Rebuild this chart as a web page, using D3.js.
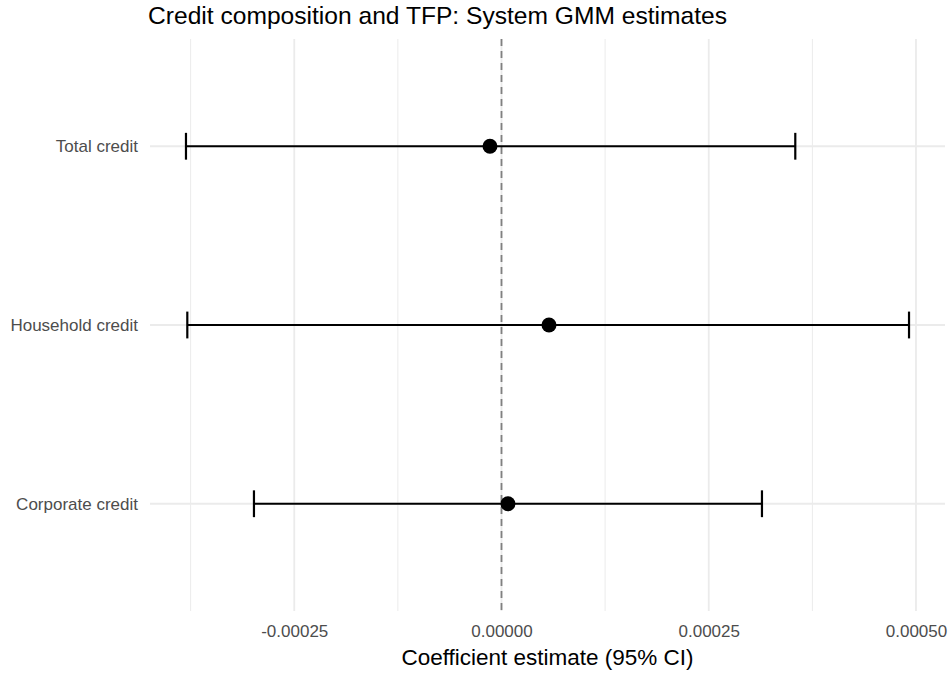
<!DOCTYPE html>
<html>
<head>
<meta charset="utf-8">
<script src="https://cdn.jsdelivr.net/npm/d3@7"></script>
<style>
  body { margin: 0; background: #fff; }
  text { font-family: "Liberation Sans", Arial, Helvetica, sans-serif; }
</style>
</head>
<body>
<figure id="coef" style="margin:0"></figure>
<script>
// coefficient estimates
const categories = ["Total credit", "Household credit", "Corporate credit"];
const estimates = [-0.0000139, 0.0000573, 0.0000078];
const lowerCI = [-0.0003806, -0.000379, -0.0002986];
const upperCI = [0.0003544, 0.0004916, 0.0003142];
const xTicks = [-0.00025, 0, 0.00025, 0.0005];
const xTickLabels = ["-0.00025", "0.00000", "0.00025", "0.00050"];
const xMinorTicks = [-0.000375, -0.000125, 0.000125, 0.000375];

const width = 951, height = 673;
const panel = { left: 150, right: 945, top: 39, bottom: 611 };

const svg = d3.select("figure#coef")
  .append("svg")
  .attr("width", width)
  .attr("height", height);

// X scale
const x = d3.scaleLinear()
  .domain([-0.000424, 0.000535])
  .range([panel.left, panel.right]);

// Y scale (discrete, top to bottom)
const y = d3.scalePoint()
  .domain(categories)
  .range([panel.top, panel.bottom])
  .padding(0.6);

const rows = categories.map((c, i) => ({
  name: c, est: estimates[i], lo: lowerCI[i], hi: upperCI[i]
}));

// grid
const grid = svg.append("g");
grid.selectAll("line.minor")
  .data(xMinorTicks)
  .enter()
  .append("line")
  .attr("class", "minor")
  .attr("x1", d => x(d)).attr("x2", d => x(d))
  .attr("y1", panel.top).attr("y2", panel.bottom)
  .style("stroke", "#ebebeb")
  .style("stroke-width", 1);
grid.selectAll("line.majorx")
  .data(xTicks)
  .enter()
  .append("line")
  .attr("class", "majorx")
  .attr("x1", d => x(d)).attr("x2", d => x(d))
  .attr("y1", panel.top).attr("y2", panel.bottom)
  .style("stroke", "#ebebeb")
  .style("stroke-width", 1.8);
grid.selectAll("line.majory")
  .data(categories)
  .enter()
  .append("line")
  .attr("class", "majory")
  .attr("x1", panel.left).attr("x2", panel.right)
  .attr("y1", d => y(d)).attr("y2", d => y(d))
  .style("stroke", "#ebebeb")
  .style("stroke-width", 1.8);

// zero reference line
svg.append("line")
  .attr("x1", x(0)).attr("x2", x(0))
  .attr("y1", panel.top).attr("y2", panel.bottom)
  .style("stroke", "#808080")
  .style("stroke-width", 1.8)
  .style("stroke-dasharray", "7,5");

// error bars
const capHalf = y.step() * 0.075;
const bars = svg.append("g");
bars.selectAll("line.ci")
  .data(rows)
  .enter()
  .append("line")
  .attr("x1", d => x(d.lo)).attr("x2", d => x(d.hi))
  .attr("y1", d => y(d.name)).attr("y2", d => y(d.name))
  .style("stroke", "#000")
  .style("stroke-width", 2.2);
["lo", "hi"].forEach(k => {
  bars.selectAll("line.cap-" + k)
    .data(rows)
    .enter()
    .append("line")
    .attr("x1", d => x(d[k])).attr("x2", d => x(d[k]))
    .attr("y1", d => y(d.name) - capHalf).attr("y2", d => y(d.name) + capHalf)
    .style("stroke", "#000")
    .style("stroke-width", 2.2);
});

// points
svg.append("g").selectAll("circle")
  .data(rows)
  .enter()
  .append("circle")
  .attr("cx", d => x(d.est))
  .attr("cy", d => y(d.name))
  .attr("r", 7.5)
  .style("fill", "#000");

// axes (text only, like theme_minimal)
const xAxis = svg.append("g")
  .attr("transform", "translate(0," + panel.bottom + ")")
  .call(d3.axisBottom(x).tickValues(xTicks)
    .tickFormat((d, i) => xTickLabels[i]).tickSize(0).tickPadding(14));
xAxis.select(".domain").remove();
xAxis.selectAll("text")
  .style("font-size", "17px")
  .style("font-family", "Liberation Sans, Arial, sans-serif")
  .style("fill", "#4d4d4d");

const yAxis = svg.append("g")
  .attr("transform", "translate(" + panel.left + ",0)")
  .call(d3.axisLeft(y).tickSize(0).tickPadding(12));
yAxis.select(".domain").remove();
yAxis.selectAll("text")
  .style("font-size", "17px")
  .style("font-family", "Liberation Sans, Arial, sans-serif")
  .style("fill", "#4d4d4d");

// titles
svg.append("text")
  .attr("x", (panel.left + panel.right) / 2)
  .attr("y", 665)
  .attr("text-anchor", "middle")
  .style("font-size", "22.5px")
  .style("fill", "#000")
  .text("Coefficient estimate (95% CI)");

svg.append("text")
  .attr("x", 148)
  .attr("y", 24)
  .style("font-size", "24.6px")
  .style("fill", "#000")
  .text("Credit composition and TFP: System GMM estimates");
</script>
</body>
</html>
